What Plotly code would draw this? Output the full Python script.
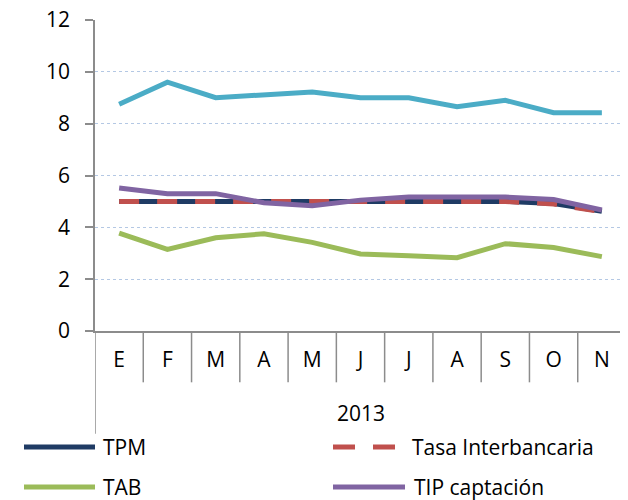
import plotly.graph_objects as go

months = ["E", "F", "M", "A", "M", "J", "J", "A", "S", "O", "N"]
year_label = "2013"
y_ticks = [0, 2, 4, 6, 8, 10, 12]

tip_colocacion = [8.75, 9.6, 9.0, 9.1, 9.22, 9.0, 9.0, 8.65, 8.9, 8.42, 8.42]
tpm = [5.0, 5.0, 5.0, 5.0, 5.0, 5.0, 5.0, 5.0, 5.0, 4.92, 4.62]
tasa_interbancaria = [5.0, 5.0, 5.0, 5.0, 5.0, 5.0, 5.0, 5.0, 5.0, 4.9, 4.6]
tab = [3.78, 3.15, 3.6, 3.75, 3.42, 2.97, 2.9, 2.83, 3.37, 3.22, 2.87]
tip_captacion = [5.52, 5.3, 5.3, 4.95, 4.83, 5.05, 5.17, 5.17, 5.17, 5.07, 4.67]

FONT = "Open Sans"
FS = 21
x = list(range(len(months)))

fig = go.Figure()
fig.add_trace(go.Scatter(x=x, y=tip_colocacion, mode="lines", name="TIP colocación",
                         line=dict(color="#4bacc6", width=5), showlegend=False))
fig.add_trace(go.Scatter(x=x, y=tab, mode="lines", name="TAB",
                         line=dict(color="#9bbb59", width=5), showlegend=False))
fig.add_trace(go.Scatter(x=x, y=tpm, mode="lines", name="TPM",
                         line=dict(color="#1f3b64", width=5), showlegend=False))
fig.add_trace(go.Scatter(x=x, y=tasa_interbancaria, mode="lines", name="Tasa Interbancaria",
                         line=dict(color="#c0504d", width=5, dash="20px,18px"), showlegend=False))
fig.add_trace(go.Scatter(x=x, y=tip_captacion, mode="lines", name="TIP captación",
                         line=dict(color="#8064a2", width=5), showlegend=False))

axis_gray = "#8c8c8c"
shapes = []
# category separators
for i in range(len(months) + 1):
    xv = i - 0.5
    y_end = -0.165 if 0 < i < len(months) else -0.33
    shapes.append(dict(type="line", xref="x", yref="paper", x0=xv, x1=xv, y0=0, y1=y_end,
                       line=dict(color=axis_gray, width=1.5)))

# manual legend (positions in reference-window pixels, converted to paper coords)
legend_items = [
    ("TPM", "#1f3b64", "solid", 24, 95, 101, 447),
    ("Tasa Interbancaria", "#c0504d", "22px,18px", 333, 397, 410, 447),
    ("TAB", "#9bbb59", "solid", 24, 95, 101, 487),
    ("TIP captación", "#8064a2", "solid", 333, 405, 412, 487),
]
annotations = []
for name, color, dash, lx0, lx1, tx, ly in legend_items:
    shapes.append(dict(type="line", xref="paper", yref="paper",
                       x0=(lx0 - 95) / 531, x1=(lx1 - 95) / 531,
                       y0=(331 - ly) / 311, y1=(331 - ly) / 311,
                       line=dict(color=color, width=5, dash=dash)))
    annotations.append(dict(xref="paper", yref="paper", x=(tx - 95) / 531, y=(331 - ly) / 311,
                            text=name, showarrow=False, xanchor="left", yanchor="middle",
                            font=dict(family=FONT, size=FS, color="#000")))

annotations.append(dict(xref="x", yref="paper", x=5, y=(331 - 413) / 311, text=year_label,
                        showarrow=False, xanchor="center", yanchor="middle",
                        font=dict(family=FONT, size=FS, color="#000")))

fig.update_layout(
    width=620, height=492,
    margin=dict(l=87, r=2, t=12, b=169, autoexpand=False),
    paper_bgcolor="white", plot_bgcolor="white",
    showlegend=False,
    shapes=shapes,
    annotations=annotations,
    font=dict(family=FONT, size=FS, color="#000"),
    xaxis=dict(range=[-0.5, 10.5], tickmode="array", tickvals=x, ticktext=months,
               showgrid=False, zeroline=False, showline=True, linecolor=axis_gray, linewidth=1.5,
               ticks="", ticklabelstandoff=9, automargin=False,
               tickfont=dict(family=FONT, size=FS, color="#000")),
    yaxis=dict(range=[0, 12], tickmode="array", tickvals=y_ticks,
               showgrid=True, gridcolor="#b4c8e4", griddash="dot", gridwidth=1.2,
               zeroline=False, showline=True, linecolor=axis_gray, linewidth=1.5,
               ticks="outside", ticklen=8, tickcolor=axis_gray, tickwidth=1.5,
               ticklabelstandoff=11, ticklabeloverflow="allow", automargin=False,
               tickfont=dict(family=FONT, size=FS, color="#000")),
)

fig.write_html("out.html")
